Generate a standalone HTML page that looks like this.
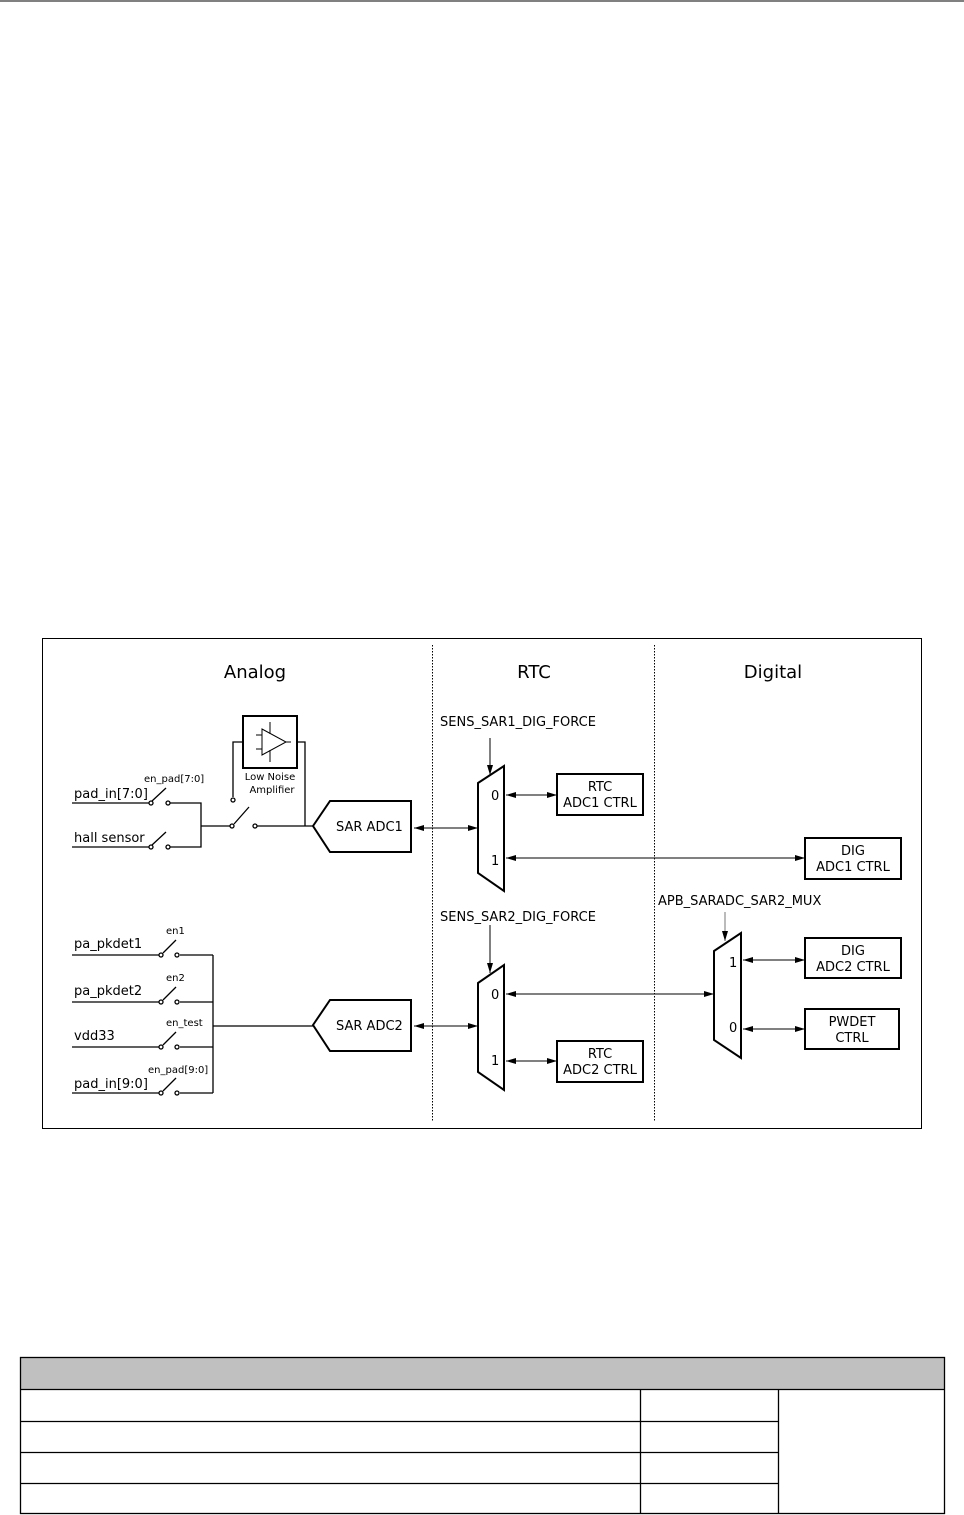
<!DOCTYPE html>
<html><head><meta charset="utf-8"><style>body{margin:0;background:#fff}svg{display:block}</style></head><body>
<svg width="964" height="1515" xmlns="http://www.w3.org/2000/svg" font-family="DejaVu Sans, Liberation Sans, sans-serif">
<defs><marker id="a" viewBox="0 0 10 6" refX="10" refY="3" markerWidth="10" markerHeight="6" orient="auto-start-reverse" markerUnits="userSpaceOnUse"><path d="M0,0 L10,3 L0,6z" fill="#000"/></marker></defs>
<line x1="0" y1="1" x2="964" y2="1" stroke="#000" stroke-width="1"/>
<rect x="42.5" y="638.5" width="879" height="490" fill="none" stroke="#000"/>
<line x1="432.5" y1="645" x2="432.5" y2="1122" stroke="#000" stroke-dasharray="1.5,1.5"/>
<line x1="654.5" y1="645" x2="654.5" y2="1122" stroke="#000" stroke-dasharray="1.5,1.5"/>
<g font-size="18" text-anchor="middle"><text x="255" y="678">Analog</text><text x="534" y="678">RTC</text><text x="773" y="678">Digital</text></g>
<g fill="none" stroke="#000" stroke-width="1.3">
<rect x="243" y="716" width="54" height="52" stroke-width="2"/>
<path d="M262,729 L262,755 L286,742Z M256,735 H262 M256,749 H262 M270,722 V734 M270,750 V762 M286,742 H291" stroke-width="1"/>
<path d="M243,742 H233 V797 M297,742 H305 V826"/>
<path d="M72,803 H149 M170,803 H201 V847 H170 M72,847 H149 M201,826 H230 M257,826 H313"/>
<path d="M152,801 L166,788 M152,845 L166,832 M234,824 L249,807"/>
<circle cx="151" cy="803" r="2"/><circle cx="168" cy="803" r="2"/><circle cx="151" cy="847" r="2"/><circle cx="168" cy="847" r="2"/>
<circle cx="233" cy="800" r="2"/><circle cx="232" cy="826" r="2"/><circle cx="255" cy="826" r="2"/>
<path d="M313,826 L330,801 H411 V852 H330Z M313,1025 L330,1000 H411 V1051 H330Z" stroke-width="2"/>
<path d="M72,955 H159 M180,955 H213 M72,1002 H159 M180,1002 H213 M72,1047 H159 M180,1047 H213 M72,1093 H159 M180,1093 H213 M213,955 V1093 M213,1026 H313"/>
<path d="M163,953 L176,940 M163,1000 L176,987 M163,1045 L176,1032 M163,1091 L176,1078"/>
<circle cx="161" cy="955" r="2"/><circle cx="177" cy="955" r="2"/><circle cx="161" cy="1002" r="2"/><circle cx="177" cy="1002" r="2"/>
<circle cx="161" cy="1047" r="2"/><circle cx="177" cy="1047" r="2"/><circle cx="161" cy="1093" r="2"/><circle cx="177" cy="1093" r="2"/>
<path d="M478,783 L504,766 V891 L478,873Z M478,983 L504,965 V1090 L478,1072Z M714,951 L741,933 V1058 L714,1040Z" stroke-width="2"/>
<rect x="557" y="774" width="86" height="41" stroke-width="2"/>
<rect x="805" y="838" width="96" height="41" stroke-width="2"/>
<rect x="557" y="1041" width="86" height="41" stroke-width="2"/>
<rect x="805" y="938" width="96" height="40" stroke-width="2"/>
<rect x="805" y="1009" width="94" height="40" stroke-width="2"/>
</g>
<g stroke="#000" stroke-width="1" marker-end="url(#a)" fill="none">
<line x1="490" y1="738" x2="490" y2="775"/>
<line x1="490" y1="925" x2="490" y2="973"/>
<line x1="725" y1="912" x2="725" y2="941" stroke="#777"/>
<line x1="414" y1="828" x2="478" y2="828" marker-start="url(#a)"/>
<line x1="414" y1="1026" x2="478" y2="1026" marker-start="url(#a)"/>
<line x1="506" y1="795" x2="557" y2="795" marker-start="url(#a)"/>
<line x1="506" y1="858" x2="805" y2="858" marker-start="url(#a)"/>
<line x1="506" y1="1061" x2="557" y2="1061" marker-start="url(#a)"/>
<line x1="506" y1="994" x2="714" y2="994" marker-start="url(#a)"/>
<line x1="743" y1="960" x2="805" y2="960" marker-start="url(#a)"/>
<line x1="743" y1="1029" x2="805" y2="1029" marker-start="url(#a)"/>
</g>
<g font-size="13">
<text x="74" y="798">pad_in[7:0]</text><text x="74" y="842">hall sensor</text>
<text x="74" y="948">pa_pkdet1</text><text x="74" y="995">pa_pkdet2</text><text x="74" y="1040">vdd33</text><text x="74" y="1088">pad_in[9:0]</text>
<text x="336" y="831">SAR ADC1</text><text x="336" y="1030">SAR ADC2</text>
<text x="440" y="726">SENS_SAR1_DIG_FORCE</text><text x="440" y="921">SENS_SAR2_DIG_FORCE</text><text x="658" y="905">APB_SARADC_SAR2_MUX</text>
<text x="491" y="800">0</text><text x="491" y="865">1</text><text x="491" y="999">0</text><text x="491" y="1065">1</text>
<text x="729" y="967">1</text><text x="729" y="1032">0</text>
</g>
<g font-size="13" text-anchor="middle">
<text x="600" y="791">RTC</text><text x="600" y="807">ADC1 CTRL</text>
<text x="853" y="855">DIG</text><text x="853" y="871">ADC1 CTRL</text>
<text x="600" y="1058">RTC</text><text x="600" y="1074">ADC2 CTRL</text>
<text x="853" y="955">DIG</text><text x="853" y="971">ADC2 CTRL</text>
<text x="852" y="1026">PWDET</text><text x="852" y="1042">CTRL</text>
</g>
<g font-size="10">
<text x="144" y="782">en_pad[7:0]</text><text x="166" y="934">en1</text><text x="166" y="981">en2</text><text x="166" y="1026">en_test</text><text x="148" y="1073">en_pad[9:0]</text>
<text x="270" y="780" text-anchor="middle">Low Noise</text><text x="272" y="793" text-anchor="middle">Amplifier</text>
</g>
<rect x="20" y="1357" width="925" height="32" fill="#c0c0c0"/>
<g stroke="#000" stroke-width="1.3" fill="none">
<rect x="20.5" y="1357.5" width="924" height="156"/>
<path d="M20,1389.5 H945 M20,1421.5 H778 M20,1452.5 H778 M20,1483.5 H778 M640.5,1389 V1514 M778.5,1389 V1514"/>
</g>
</svg>
</body></html>
